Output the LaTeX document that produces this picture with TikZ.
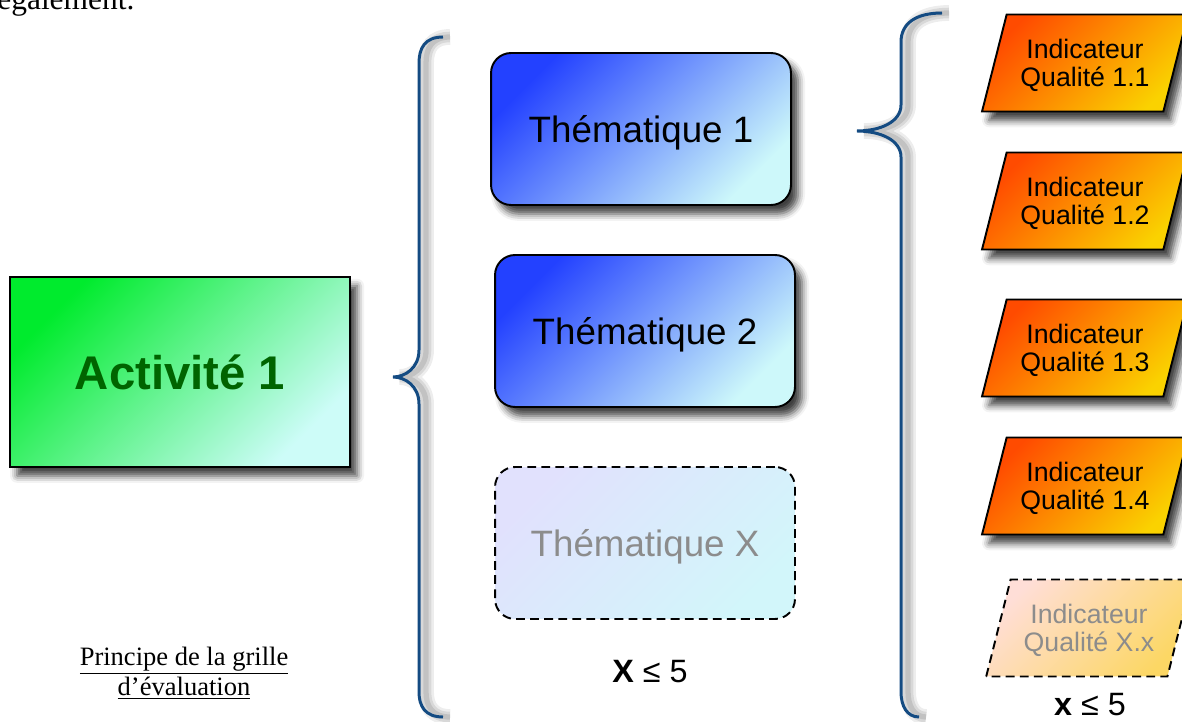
\documentclass[tikz,border=0pt]{standalone}
\usepackage{fontspec}
\setmainfont{Liberation Sans}
\newfontfamily\serifdoc{Liberation Serif}
\usepackage{tikz}
\usetikzlibrary{shapes.geometric,shadows.blur}

\definecolor{actGreen}{RGB}{0,235,45}
\definecolor{actLight}{RGB}{205,252,248}
\definecolor{actText}{RGB}{0,100,0}
\definecolor{themBlue}{RGB}{35,65,255}
\definecolor{themLight}{RGB}{205,248,250}
\definecolor{themFaintTop}{RGB}{225,225,253}
\definecolor{themFaintBot}{RGB}{210,246,250}
\definecolor{indRed}{RGB}{255,75,0}
\definecolor{indGold}{RGB}{250,210,0}
\definecolor{indFaintTop}{RGB}{255,222,215}
\definecolor{indFaintBot}{RGB}{252,215,100}
\definecolor{braceBlue}{RGB}{20,75,130}
\definecolor{faintText}{RGB}{140,140,140}

\tikzset{
  boxshadow/.style={blur shadow={shadow xshift=4pt, shadow yshift=-5pt,
      shadow blur radius=4pt, shadow opacity=75}},
  activite/.style={rectangle, draw=black, line width=1.1pt,
    minimum width=6.8cm, minimum height=3.8cm,
    top color=actGreen, bottom color=actLight, shading angle=45,
    text=actText, font=\fontsize{26.9}{30}\selectfont\bfseries, boxshadow},
  themabase/.style={rectangle, rounded corners=0.4cm, draw=black, line width=1.1pt,
    minimum width=6cm, minimum height=3.04cm, text depth=0pt,
    font=\fontsize{20.9}{25}\selectfont},
  thema/.style={themabase, top color=themBlue, bottom color=themLight,
    shading angle=45, boxshadow},
  themafaint/.style={themabase, dash pattern=on 5pt off 3pt,
    top color=themFaintTop, bottom color=themFaintBot, shading angle=45,
    text=faintText},
  indicbase/.style={trapezium, trapezium left angle=67, trapezium right angle=113,
    trapezium stretches=true, minimum width=4.14cm, minimum height=1.94cm,
    inner sep=0pt, draw=black, line width=1.1pt, align=center, text depth=0pt,
    font=\fontsize{15.2}{16.2}\selectfont},
  indic/.style={indicbase, top color=indRed, bottom color=indGold,
    shading angle=45, boxshadow},
  indicfaint/.style={indicbase, dash pattern=on 5pt off 3pt,
    top color=indFaintTop, bottom color=indFaintBot, shading angle=45,
    text=faintText},
  borne/.style={font=\fontsize{18.4}{21}\selectfont, anchor=base}
}

\begin{document}
\begin{tikzpicture}[x=0.02cm, y=-0.02cm]
  \useasboundingbox (0,0) rectangle (1182,722);

  % texte du document, coupe en haut
  \node[font=\serifdoc\fontsize{17.9}{20}\selectfont, anchor=base west, inner sep=0pt]
    (suite) at (-3,10) {également.};

  % accolades (ombre puis trait)
  \foreach \lw/\op/\dx/\col in {9/0.07/4/black,6/0.09/4/black,3/0.1/4/black,1.7/1/0/braceBlue} {
    \draw[\col, line width=\lw pt, opacity=\op, xshift=\dx pt]
      (443,37) .. controls (425,37) and (419,48) .. (419,63) -- (419,350)
      .. controls (419,368) and (405,377) .. (393,377)
      .. controls (405,377) and (419,386) .. (419,404) -- (419,692)
      .. controls (419,706) and (425,717) .. (443,717);
    \draw[\col, line width=\lw pt, opacity=\op, xshift=\dx pt]
      (942,13) .. controls (915,13) and (901,24) .. (901,42) -- (901,105)
      .. controls (901,122) and (880,131) .. (857,131)
      .. controls (880,131) and (901,140) .. (901,157) -- (901,692)
      .. controls (901,706) and (907,717) .. (919,717);
  }

  % activite
  \node[activite] (act1) at (180,372) {Activité 1};

  % thematiques
  \node[thema] (thema1) at (641,129) {Thématique 1};
  \node[thema] (thema2) at (645,331) {Thématique 2};
  \node[themafaint] (themaX) at (645,543) {Thématique X};
  \node[borne] (bornethema) at (650,682) {\textbf{X} ≤ 5};

  % indicateurs
  \foreach \n/\y in {1/63,2/201,3/348,4/486} {
    \node[indic] (iq\n) at (1085,\y) {Indicateur\\Qualité 1.\n};
  }
  \node[indicfaint] (iqX) at (1089,628) {Indicateur\\Qualité X.x};
  \node[borne] (borneind) at (1090,715) {\textbf{x} ≤ 5};

  % legende
  \node[font=\serifdoc\fontsize{15.1}{17}\selectfont, align=center] (legende) at (184,673)
    {\underline{Principe de la grille}\\\underline{d’évaluation}};
\end{tikzpicture}
\end{document}
